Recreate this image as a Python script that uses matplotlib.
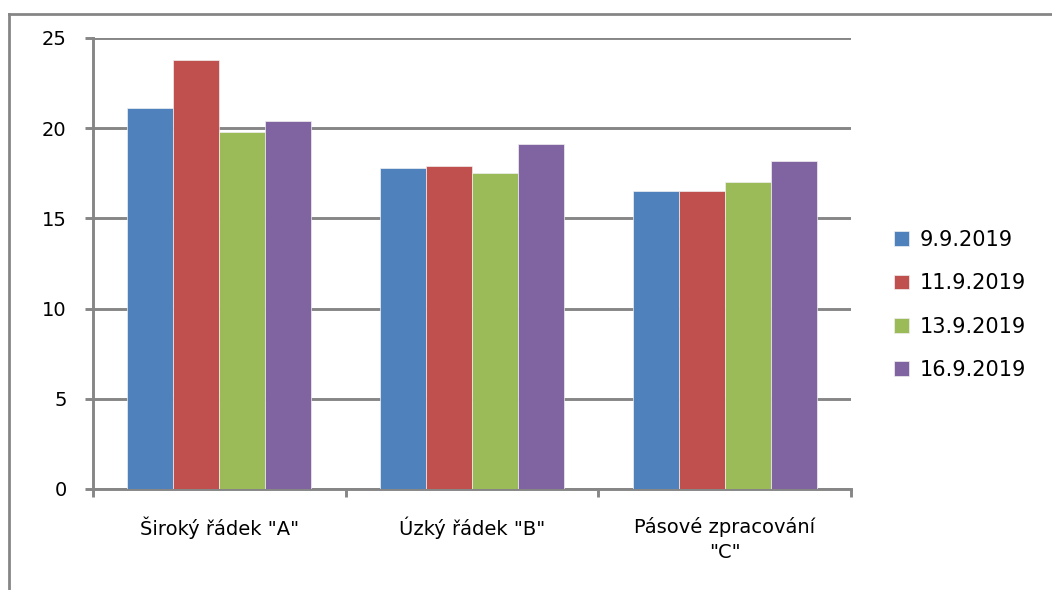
import numpy as np
import matplotlib.pyplot as plt
from matplotlib.lines import Line2D

# Data
kategorie = ['Široký řádek "A"', 'Úzký řádek "B"', 'Pásové zpracování\n"C"']
serie = ['9.9.2019', '11.9.2019', '13.9.2019', '16.9.2019']
hodnoty_9 = [21.1, 17.8, 16.5]
hodnoty_11 = [23.8, 17.9, 16.5]
hodnoty_13 = [19.8, 17.5, 17.0]
hodnoty_16 = [20.4, 19.1, 18.2]
barvy = ['#4F81BD', '#C0504D', '#9BBB59', '#8064A2']
sed = '#868686'

plt.rcParams['font.family'] = ['DejaVu Sans']

fig = plt.figure(figsize=(10.52, 5.9), dpi=100)
ax = fig.add_axes([0.0884, 0.1712, 0.7206, 0.7644])

x = np.arange(len(kategorie))
w = 1 / 5.5
data = [hodnoty_9, hodnoty_11, hodnoty_13, hodnoty_16]
for i, (vals, c, lab) in enumerate(zip(data, barvy, serie)):
    ax.bar(x + (i - 1.5) * w, vals, width=w, color=c, label=lab,
           edgecolor='#f0f0f0', linewidth=0.5, zorder=3)

ax.set_xlim(-0.5, 2.5)
ax.set_ylim(0, 25)
ax.set_yticks([0, 5, 10, 15, 20, 25])
ax.yaxis.grid(True, color=sed, linewidth=2.1, zorder=0)
ax.set_axisbelow(True)

for s in ['top', 'right']:
    ax.spines[s].set_visible(False)
for s in ['left', 'bottom']:
    ax.spines[s].set_color(sed)
    ax.spines[s].set_linewidth(2.1)

ax.tick_params(axis='y', length=6, width=2.1, color=sed, labelsize=14, pad=13)
ax.set_xticks(x)
ax.set_xticklabels(kategorie, fontsize=14, linespacing=1.4)
ax.tick_params(axis='x', length=0, pad=20)
ax.set_xticks([-0.5, 0.5, 1.5, 2.5], minor=True)
ax.tick_params(axis='x', which='minor', length=6, width=2.1, color=sed)

ax.legend(loc='center left', bbox_to_anchor=(894 / 1052, 1 - 305 / 590),
          bbox_transform=fig.transFigure, frameon=False,
          fontsize=15, handlelength=0.7, handleheight=0.7, labelspacing=1.12,
          handletextpad=0.55, borderaxespad=0, borderpad=0)

# chart border
fig.add_artist(Line2D([0.0085, 1.0], [1 - 14 / 590, 1 - 14 / 590], color=sed, linewidth=2))
fig.add_artist(Line2D([0.0085, 0.0085], [0, 1 - 14 / 590], color=sed, linewidth=2))

fig.savefig('out.png', dpi=100)
